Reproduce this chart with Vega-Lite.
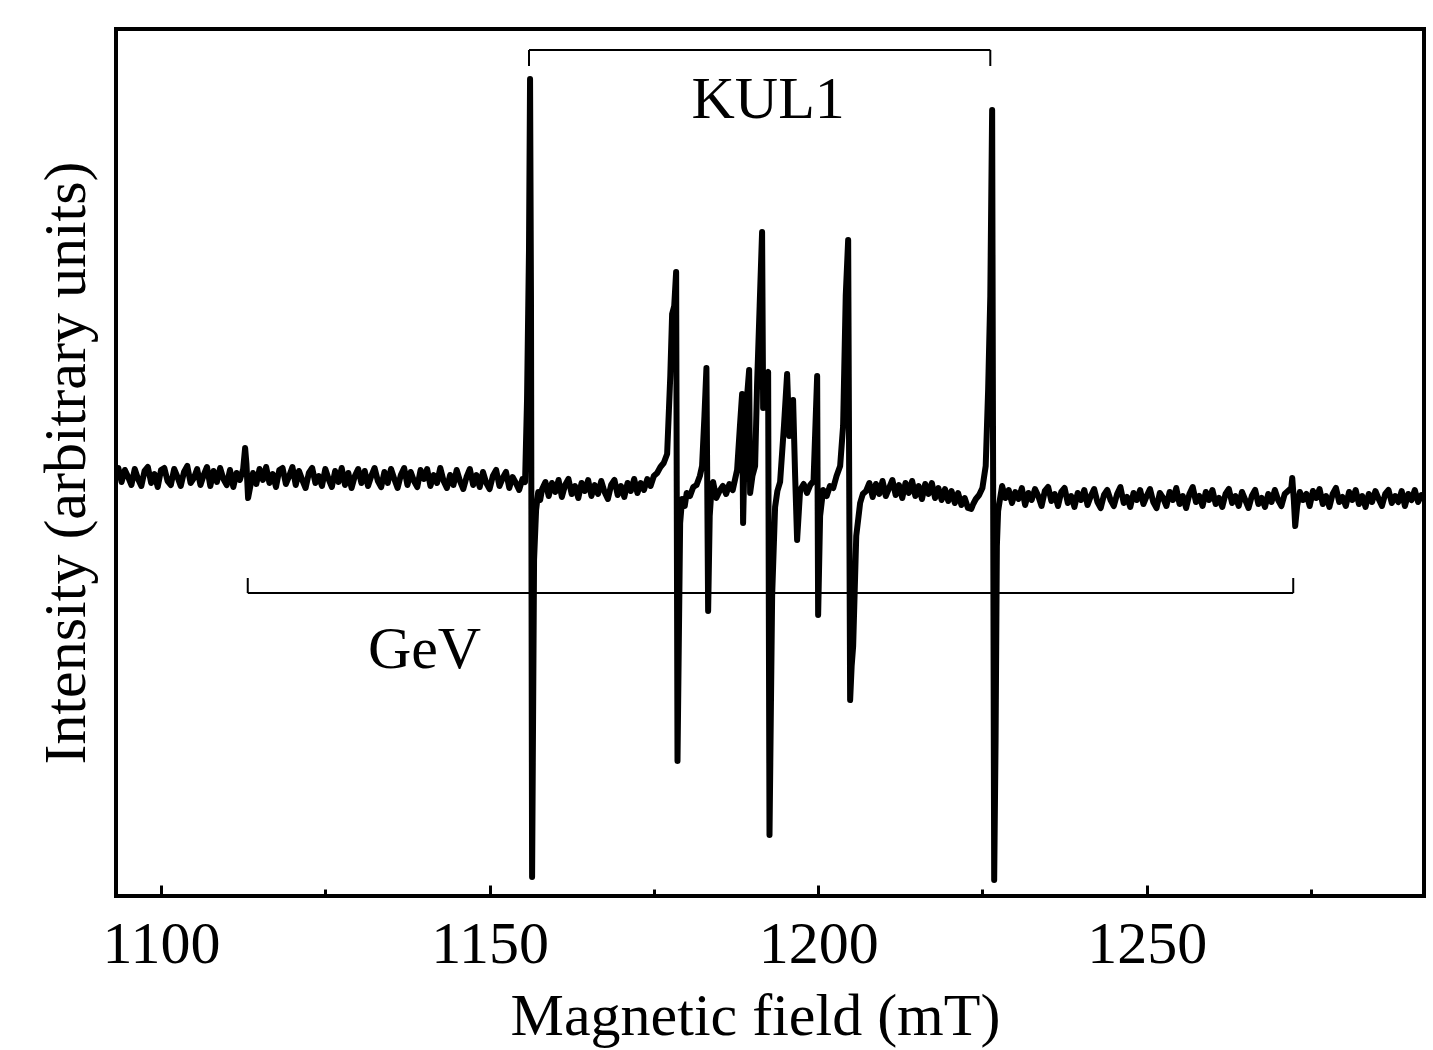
{
  "$schema": "https://vega.github.io/schema/vega-lite/v6.json",
  "width": 1308,
  "height": 867,
  "autosize": {"type": "none"},
  "padding": {"left": 116, "top": 29, "right": 9, "bottom": 154},
  "background": "white",
  "config": {
    "view": {"stroke": "black", "strokeWidth": 4},
    "font": "Liberation Serif"
  },
  "datasets": {
    "spec": [
      {"b":1093.0,"i":421},{"b":1093.5,"i":428},{"b":1094.0,"i":414},{"b":1094.5,"i":426},{"b":1095.0,"i":419},{"b":1095.5,"i":411},{"b":1096.0,"i":427},{"b":1096.5,"i":417},{"b":1097.0,"i":410},{"b":1097.5,"i":425},
      {"b":1098.0,"i":429},{"b":1098.5,"i":413},{"b":1099.0,"i":422},{"b":1099.5,"i":409},{"b":1100.0,"i":426},{"b":1100.5,"i":428},{"b":1101.0,"i":415},{"b":1101.5,"i":411},{"b":1102.0,"i":427},{"b":1102.5,"i":419},
      {"b":1103.0,"i":410},{"b":1103.5,"i":424},{"b":1104.0,"i":430},{"b":1104.5,"i":413},{"b":1105.0,"i":418},{"b":1105.5,"i":427},{"b":1106.0,"i":411},{"b":1106.5,"i":421},{"b":1107.0,"i":429},{"b":1107.5,"i":410},
      {"b":1108.0,"i":425},{"b":1108.5,"i":414},{"b":1109.0,"i":428},{"b":1109.5,"i":417},{"b":1110.0,"i":411},{"b":1110.5,"i":426},{"b":1111.0,"i":409},{"b":1111.5,"i":423},{"b":1112.0,"i":416},{"b":1112.5,"i":427},
      {"b":1112.8,"i":448},{"b":1113.0,"i":432},{"b":1113.25,"i":398},{"b":1113.6,"i":410},{"b":1114.0,"i":423},{"b":1114.5,"i":412},{"b":1115.0,"i":427},{"b":1115.5,"i":416},{"b":1116.0,"i":429},{"b":1116.5,"i":413},
      {"b":1117.0,"i":422},{"b":1117.5,"i":409},{"b":1118.0,"i":426},{"b":1118.5,"i":428},{"b":1119.0,"i":412},{"b":1119.5,"i":420},{"b":1120.0,"i":429},{"b":1120.5,"i":411},{"b":1121.0,"i":425},{"b":1121.5,"i":416},
      {"b":1122.0,"i":408},{"b":1122.5,"i":423},{"b":1123.0,"i":428},{"b":1123.5,"i":413},{"b":1124.0,"i":420},{"b":1124.5,"i":410},{"b":1125.0,"i":427},{"b":1125.5,"i":417},{"b":1126.0,"i":409},{"b":1126.5,"i":425},
      {"b":1127.0,"i":414},{"b":1127.5,"i":428},{"b":1128.0,"i":411},{"b":1128.5,"i":423},{"b":1129.0,"i":408},{"b":1129.5,"i":420},{"b":1130.0,"i":427},{"b":1130.5,"i":413},{"b":1131.0,"i":425},{"b":1131.5,"i":410},
      {"b":1132.0,"i":420},{"b":1132.5,"i":428},{"b":1133.0,"i":415},{"b":1133.5,"i":409},{"b":1134.0,"i":424},{"b":1134.5,"i":413},{"b":1135.0,"i":427},{"b":1135.5,"i":417},{"b":1136.0,"i":408},{"b":1136.5,"i":421},
      {"b":1137.0,"i":428},{"b":1137.5,"i":411},{"b":1138.0,"i":424},{"b":1138.5,"i":415},{"b":1139.0,"i":409},{"b":1139.5,"i":426},{"b":1140.0,"i":417},{"b":1140.5,"i":427},{"b":1141.0,"i":410},{"b":1141.5,"i":421},
      {"b":1142.0,"i":413},{"b":1142.5,"i":428},{"b":1143.0,"i":415},{"b":1143.5,"i":408},{"b":1144.0,"i":421},{"b":1144.5,"i":411},{"b":1145.0,"i":426},{"b":1145.5,"i":415},{"b":1146.0,"i":407},{"b":1146.5,"i":419},
      {"b":1147.0,"i":427},{"b":1147.5,"i":411},{"b":1148.0,"i":421},{"b":1148.5,"i":409},{"b":1149.0,"i":424},{"b":1149.5,"i":413},{"b":1150.0,"i":407},{"b":1150.5,"i":420},{"b":1151.0,"i":426},{"b":1151.5,"i":410},
      {"b":1152.0,"i":418},{"b":1152.5,"i":424},{"b":1153.0,"i":408},{"b":1153.5,"i":419},{"b":1154.0,"i":413},{"b":1154.5,"i":406},{"b":1155.0,"i":417},{"b":1155.4,"i":414},{"b":1155.7,"i":496},{"b":1156.0,"i":646},
      {"b":1156.16,"i":817},{"b":1156.3,"i":600},{"b":1156.47,"i":19},{"b":1156.77,"i":336},{"b":1157.08,"i":386},{"b":1157.4,"i":404},{"b":1157.7,"i":396},{"b":1158.0,"i":407},
      {"b":1158.5,"i":414},{"b":1159.0,"i":400},{"b":1159.5,"i":413},{"b":1160.0,"i":404},{"b":1160.5,"i":416},{"b":1161.0,"i":399},{"b":1161.5,"i":411},{"b":1162.0,"i":417},{"b":1162.5,"i":402},{"b":1163.0,"i":410},
      {"b":1163.5,"i":398},{"b":1164.0,"i":413},{"b":1164.5,"i":405},{"b":1165.0,"i":416},{"b":1165.5,"i":400},{"b":1166.0,"i":411},{"b":1166.5,"i":402},{"b":1167.0,"i":415},{"b":1167.5,"i":404},{"b":1168.0,"i":397},
      {"b":1168.5,"i":411},{"b":1169.0,"i":416},{"b":1169.5,"i":401},{"b":1170.0,"i":410},{"b":1170.5,"i":399},{"b":1171.0,"i":413},{"b":1171.5,"i":405},{"b":1172.0,"i":417},{"b":1172.5,"i":403},{"b":1173.0,"i":413},
      {"b":1173.5,"i":406},{"b":1174.0,"i":417},{"b":1174.5,"i":410},{"b":1175.0,"i":420},{"b":1175.5,"i":423},{"b":1176.0,"i":429},{"b":1176.5,"i":433},{"b":1177.02,"i":442},{"b":1177.5,"i":520},{"b":1177.78,"i":582},
      {"b":1178.1,"i":590},{"b":1178.39,"i":624},{"b":1178.6,"i":135},{"b":1179.0,"i":373},{"b":1179.3,"i":397},{"b":1179.7,"i":390},{"b":1180.0,"i":403},{"b":1180.5,"i":400},{"b":1181.0,"i":409},{"b":1181.5,"i":411},
      {"b":1182.0,"i":420},{"b":1182.34,"i":430},{"b":1182.7,"i":480},{"b":1183.0,"i":528},{"b":1183.26,"i":285},{"b":1183.5,"i":380},{"b":1183.8,"i":410},{"b":1184.02,"i":414},{"b":1184.5,"i":398},{"b":1185.0,"i":405},
      {"b":1185.5,"i":410},{"b":1186.0,"i":402},{"b":1186.5,"i":412},{"b":1187.0,"i":406},{"b":1187.67,"i":426},{"b":1188.1,"i":470},{"b":1188.43,"i":502},{"b":1188.58,"i":373},{"b":1188.8,"i":440},{"b":1189.19,"i":500},
      {"b":1189.5,"i":526},{"b":1189.65,"i":403},{"b":1190.0,"i":420},{"b":1190.41,"i":430},{"b":1190.71,"i":512},{"b":1191.1,"i":590},{"b":1191.47,"i":664},{"b":1191.63,"i":488},{"b":1192.0,"i":520},{"b":1192.39,"i":524},
      {"b":1192.6,"i":61},{"b":1193.0,"i":300},{"b":1193.45,"i":389},{"b":1193.8,"i":405},{"b":1194.21,"i":414},{"b":1194.8,"i":470},{"b":1195.28,"i":522},{"b":1195.6,"i":460},{"b":1196.0,"i":480},{"b":1196.19,"i":496},
      {"b":1196.5,"i":420},{"b":1196.8,"i":356},{"b":1197.26,"i":406},{"b":1197.8,"i":412},{"b":1198.3,"i":403},{"b":1198.8,"i":411},{"b":1199.3,"i":415},{"b":1199.85,"i":520},{"b":1200.0,"i":281},{"b":1200.3,"i":380},
      {"b":1200.76,"i":406},{"b":1201.3,"i":400},{"b":1201.8,"i":410},{"b":1202.3,"i":408},{"b":1202.8,"i":420},{"b":1203.35,"i":430},{"b":1203.8,"i":470},{"b":1204.2,"i":600},{"b":1204.57,"i":656},{"b":1204.87,"i":196},
      {"b":1205.1,"i":230},{"b":1205.33,"i":250},{"b":1205.8,"i":360},{"b":1206.39,"i":393},{"b":1206.8,"i":402},{"b":1207.3,"i":405},
      {"b":1207.8,"i":413},{"b":1208.3,"i":399},{"b":1208.8,"i":412},{"b":1209.3,"i":402},{"b":1209.8,"i":415},{"b":1210.3,"i":400},{"b":1210.8,"i":408},{"b":1211.3,"i":416},{"b":1211.8,"i":401},{"b":1212.3,"i":411},
      {"b":1212.8,"i":398},{"b":1213.3,"i":413},{"b":1213.8,"i":403},{"b":1214.3,"i":415},{"b":1214.8,"i":400},{"b":1215.3,"i":410},{"b":1215.8,"i":397},{"b":1216.3,"i":412},{"b":1216.8,"i":402},{"b":1217.3,"i":413},
      {"b":1217.8,"i":398},{"b":1218.3,"i":408},{"b":1218.8,"i":396},{"b":1219.3,"i":407},{"b":1219.8,"i":395},{"b":1220.3,"i":405},{"b":1220.8,"i":393},{"b":1221.3,"i":403},{"b":1221.8,"i":391},{"b":1222.3,"i":398},
      {"b":1222.8,"i":388},{"b":1223.3,"i":387},{"b":1223.6,"i":392},{"b":1224.0,"i":397},{"b":1224.5,"i":401},{"b":1225.0,"i":408},{"b":1225.5,"i":430},{"b":1225.87,"i":506},{"b":1226.2,"i":600},{"b":1226.48,"i":786},
      {"b":1226.79,"i":16},{"b":1227.0,"i":154},{"b":1227.2,"i":350},{"b":1227.39,"i":385},{"b":1227.7,"i":398},{"b":1228.0,"i":410},{"b":1228.5,"i":398},
      {"b":1229.0,"i":406},{"b":1229.5,"i":393},{"b":1230.0,"i":404},{"b":1230.5,"i":397},{"b":1231.0,"i":408},{"b":1231.5,"i":391},{"b":1232.0,"i":403},{"b":1232.5,"i":396},{"b":1233.0,"i":407},{"b":1233.5,"i":400},
      {"b":1234.0,"i":390},{"b":1234.5,"i":405},{"b":1235.0,"i":409},{"b":1235.5,"i":395},{"b":1236.0,"i":402},{"b":1236.5,"i":390},{"b":1237.0,"i":404},{"b":1237.5,"i":408},{"b":1238.0,"i":393},{"b":1238.5,"i":400},
      {"b":1239.0,"i":389},{"b":1239.5,"i":403},{"b":1240.0,"i":396},{"b":1240.5,"i":406},{"b":1241.0,"i":391},{"b":1241.5,"i":400},{"b":1242.0,"i":407},{"b":1242.5,"i":394},{"b":1243.0,"i":388},{"b":1243.5,"i":401},
      {"b":1244.0,"i":406},{"b":1244.5,"i":396},{"b":1245.0,"i":390},{"b":1245.5,"i":402},{"b":1246.0,"i":409},{"b":1246.5,"i":393},{"b":1247.0,"i":399},{"b":1247.5,"i":389},{"b":1248.0,"i":403},{"b":1248.5,"i":396},
      {"b":1249.0,"i":406},{"b":1249.5,"i":392},{"b":1250.0,"i":400},{"b":1250.5,"i":407},{"b":1251.0,"i":394},{"b":1251.5,"i":388},{"b":1252.0,"i":403},{"b":1252.5,"i":398},{"b":1253.0,"i":390},{"b":1253.5,"i":404},
      {"b":1254.0,"i":396},{"b":1254.5,"i":408},{"b":1255.0,"i":392},{"b":1255.5,"i":400},{"b":1256.0,"i":388},{"b":1256.5,"i":402},{"b":1257.0,"i":409},{"b":1257.5,"i":394},{"b":1258.0,"i":400},{"b":1258.5,"i":390},
      {"b":1259.0,"i":404},{"b":1259.5,"i":396},{"b":1260.0,"i":406},{"b":1260.5,"i":392},{"b":1261.0,"i":398},{"b":1261.5,"i":389},{"b":1262.0,"i":402},{"b":1262.5,"i":407},{"b":1263.0,"i":393},{"b":1263.5,"i":400},
      {"b":1264.0,"i":390},{"b":1264.5,"i":404},{"b":1265.0,"i":396},{"b":1265.5,"i":388},{"b":1266.0,"i":400},{"b":1266.5,"i":406},{"b":1267.0,"i":392},{"b":1267.5,"i":398},{"b":1268.0,"i":389},{"b":1268.5,"i":402},
      {"b":1269.0,"i":394},{"b":1269.5,"i":406},{"b":1270.0,"i":396},{"b":1270.5,"i":390},{"b":1271.0,"i":402},{"b":1271.5,"i":405},{"b":1272.0,"i":408},{"b":1272.15,"i":418},{"b":1272.4,"i":395},{"b":1272.6,"i":370},
      {"b":1272.9,"i":390},{"b":1273.3,"i":404},{"b":1273.8,"i":396},{"b":1274.3,"i":402},{"b":1274.8,"i":390},{"b":1275.3,"i":405},{"b":1275.8,"i":398},{"b":1276.3,"i":407},{"b":1276.8,"i":392},{"b":1277.3,"i":400},
      {"b":1277.8,"i":389},{"b":1278.3,"i":402},{"b":1278.8,"i":408},{"b":1279.3,"i":394},{"b":1279.8,"i":399},{"b":1280.3,"i":390},{"b":1280.8,"i":404},{"b":1281.3,"i":396},{"b":1281.8,"i":406},{"b":1282.3,"i":392},
      {"b":1282.8,"i":400},{"b":1283.3,"i":389},{"b":1283.8,"i":402},{"b":1284.3,"i":394},{"b":1284.8,"i":405},{"b":1285.3,"i":397},{"b":1285.8,"i":390},{"b":1286.3,"i":402},{"b":1286.8,"i":406},{"b":1287.3,"i":393},
      {"b":1287.8,"i":400},{"b":1288.3,"i":394},{"b":1288.8,"i":405},{"b":1289.3,"i":390},{"b":1289.8,"i":402},{"b":1290.3,"i":396},{"b":1290.8,"i":406},{"b":1291.3,"i":394},{"b":1291.8,"i":401},{"b":1292.2,"i":397}
    ],
    "brackets": [
      {"x1":1156.0,"x2":1226.2,"y1":846,"y2":846},
      {"x1":1156.0,"x2":1156.0,"y1":846,"y2":830},
      {"x1":1226.2,"x2":1226.2,"y1":846,"y2":830},
      {"x1":1113.2,"x2":1272.3,"y1":303,"y2":303},
      {"x1":1113.2,"x2":1113.2,"y1":303,"y2":318},
      {"x1":1272.3,"x2":1272.3,"y1":303,"y2":318}
    ],
    "labels": [
      {"x":1192.4,"y":778,"t":"KUL1"},
      {"x":1140.1,"y":228,"t":"GeV"}
    ]
  },
  "layer": [
    {
      "data": {"name": "spec"},
      "mark": {"type": "line", "color": "black", "strokeWidth": 6, "clip": true, "strokeJoin": "round", "strokeCap": "round"},
      "encoding": {
        "x": {
          "field": "b", "type": "quantitative",
          "scale": {"domain": [1093.15, 1292.2], "nice": false, "zero": false},
          "axis": {
            "orient": "bottom",
            "values": [1100, 1150, 1200, 1250],
            "format": "d",
            "tickSize": -11, "tickWidth": 3, "tickColor": "black",
            "domain": false, "grid": false,
            "labelFont": "Liberation Serif", "labelFontSize": 60, "labelColor": "black", "labelPadding": 30,
            "labelFlush": false, "labelOverlap": false,
            "title": "Magnetic field (mT)",
            "titleX": 639,
            "titleFont": "Liberation Serif", "titleFontSize": 60, "titleFontWeight": "normal", "titleColor": "black", "titlePadding": 13
          }
        },
        "y": {
          "field": "i", "type": "quantitative",
          "scale": {"domain": [0, 867], "nice": false, "zero": false},
          "axis": {
            "ticks": false, "labels": false, "domain": false, "grid": false,
            "title": "Intensity (arbitrary units)",
            "titleFont": "Liberation Serif", "titleFontSize": 60, "titleFontWeight": "normal", "titleColor": "black", "titlePadding": 19
          }
        }
      }
    },
    {
      "data": {"name": "brackets"},
      "mark": {"type": "rule", "color": "black", "strokeWidth": 2},
      "encoding": {
        "x": {
          "field": "x1", "type": "quantitative",
          "axis": {
            "orient": "bottom",
            "values": [1125, 1175, 1225, 1275],
            "tickSize": -7, "tickWidth": 3, "tickColor": "black",
            "domain": false, "grid": false, "labels": false, "title": null
          }
        },
        "x2": {"field": "x2"},
        "y": {
          "field": "y1", "type": "quantitative",
          "axis": {
            "ticks": false, "labels": false, "domain": false, "grid": false,
            "title": "Intensity (arbitrary units)",
            "titleFont": "Liberation Serif", "titleFontSize": 60, "titleFontWeight": "normal", "titleColor": "black", "titlePadding": 19
          }
        },
        "y2": {"field": "y2"}
      }
    },
    {
      "data": {"name": "labels"},
      "mark": {"type": "text", "font": "Liberation Serif", "fontSize": 60, "color": "black", "align": "center", "baseline": "alphabetic"},
      "encoding": {
        "x": {"field": "x", "type": "quantitative", "axis": null},
        "y": {
          "field": "y", "type": "quantitative",
          "axis": {
            "ticks": false, "labels": false, "domain": false, "grid": false,
            "title": "Intensity (arbitrary units)",
            "titleFont": "Liberation Serif", "titleFontSize": 60, "titleFontWeight": "normal", "titleColor": "black", "titlePadding": 19
          }
        },
        "text": {"field": "t"}
      }
    }
  ],
  "resolve": {"axis": {"x": "independent"}}
}
